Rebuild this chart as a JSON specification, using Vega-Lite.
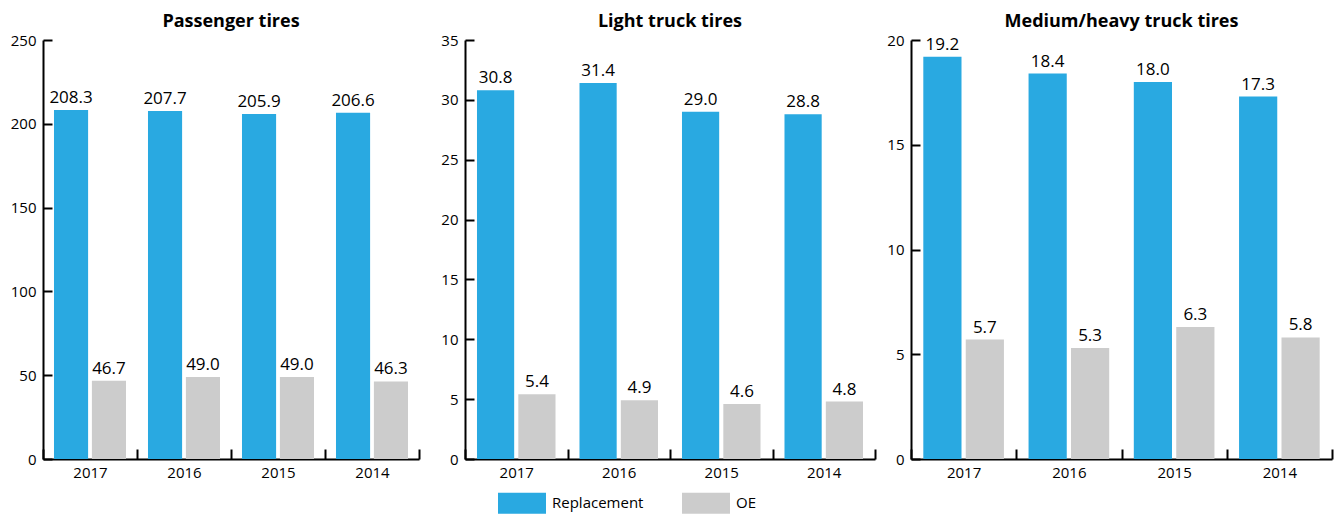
{
  "$schema": "https://vega.github.io/schema/vega-lite/v6.json",
  "padding": {"left": 10, "top": 13, "right": 9, "bottom": 4},
  "bounds": "flush",
  "spacing": 46,
  "config": {
    "font": "Open Sans",
    "view": {"stroke": null},
    "title": {"fontSize": 18, "fontWeight": "bold", "color": "black", "font": "Open Sans", "anchor": "middle", "offset": 2},
    "axis": {"domainColor": "black", "domainWidth": 2, "tickColor": "black", "tickWidth": 2, "labelFont": "Open Sans", "labelFontSize": 15, "labelColor": "black", "grid": false, "title": null},
    "axisX": {"tickSize": -10, "tickBand": "extent", "labelAngle": 0, "labelPadding": 16},
    "axisY": {"tickSize": -9, "labelPadding": 16},
    "text": {"font": "Open Sans", "fontSize": 17, "color": "black"}
  },
  "data": {"values": [
    {"panel": "Passenger tires", "year": "2017", "type": "Replacement", "value": 208.3},
    {"panel": "Passenger tires", "year": "2017", "type": "OE", "value": 46.7},
    {"panel": "Passenger tires", "year": "2016", "type": "Replacement", "value": 207.7},
    {"panel": "Passenger tires", "year": "2016", "type": "OE", "value": 49.0},
    {"panel": "Passenger tires", "year": "2015", "type": "Replacement", "value": 205.9},
    {"panel": "Passenger tires", "year": "2015", "type": "OE", "value": 49.0},
    {"panel": "Passenger tires", "year": "2014", "type": "Replacement", "value": 206.6},
    {"panel": "Passenger tires", "year": "2014", "type": "OE", "value": 46.3},
    {"panel": "Light truck tires", "year": "2017", "type": "Replacement", "value": 30.8},
    {"panel": "Light truck tires", "year": "2017", "type": "OE", "value": 5.4},
    {"panel": "Light truck tires", "year": "2016", "type": "Replacement", "value": 31.4},
    {"panel": "Light truck tires", "year": "2016", "type": "OE", "value": 4.9},
    {"panel": "Light truck tires", "year": "2015", "type": "Replacement", "value": 29.0},
    {"panel": "Light truck tires", "year": "2015", "type": "OE", "value": 4.6},
    {"panel": "Light truck tires", "year": "2014", "type": "Replacement", "value": 28.8},
    {"panel": "Light truck tires", "year": "2014", "type": "OE", "value": 4.8},
    {"panel": "Medium/heavy truck tires", "year": "2017", "type": "Replacement", "value": 19.2},
    {"panel": "Medium/heavy truck tires", "year": "2017", "type": "OE", "value": 5.7},
    {"panel": "Medium/heavy truck tires", "year": "2016", "type": "Replacement", "value": 18.4},
    {"panel": "Medium/heavy truck tires", "year": "2016", "type": "OE", "value": 5.3},
    {"panel": "Medium/heavy truck tires", "year": "2015", "type": "Replacement", "value": 18.0},
    {"panel": "Medium/heavy truck tires", "year": "2015", "type": "OE", "value": 6.3},
    {"panel": "Medium/heavy truck tires", "year": "2014", "type": "Replacement", "value": 17.3},
    {"panel": "Medium/heavy truck tires", "year": "2014", "type": "OE", "value": 5.8}
  ]},
  "hconcat": [
    {
      "width": 376, "height": 419,
      "title": "Passenger tires",
      "transform": [{"filter": "datum.panel === 'Passenger tires'"}],
      "encoding": {
        "x": {"field": "year", "type": "ordinal", "sort": ["2017", "2016", "2015", "2014"], "scale": {"paddingInner": 0, "paddingOuter": 0}},
        "xOffset": {"field": "type", "sort": ["Replacement", "OE"], "scale": {"paddingInner": 0.1, "paddingOuter": 0.29}},
        "y": {"field": "value", "type": "quantitative", "scale": {"domain": [0, 250]}, "axis": {"values": [0, 50, 100, 150, 200, 250]}}
      },
      "layer": [
        {"mark": "bar", "encoding": {"color": {"field": "type", "type": "nominal", "scale": {"domain": ["Replacement", "OE"], "range": ["#29A9E1", "#CCCCCC"]}, "legend": {"title": null, "orient": "none", "legendX": 467, "legendY": 451, "padding": 0, "direction": "horizontal", "symbolType": "M-2,-0.875H2V0.875H-2Z", "symbolSize": 576, "symbolStrokeWidth": 0, "symbolOpacity": 1, "labelFontSize": 15, "labelFont": "Open Sans", "labelColor": "black", "labelOffset": 18, "columnPadding": 38}}}},
        {"mark": {"type": "text", "baseline": "alphabetic", "dy": -7}, "encoding": {"text": {"field": "value", "type": "quantitative", "format": ".1f"}}}
      ]
    },
    {
      "bounds": "flush",
      "spacing": 36,
      "hconcat": [
        {
          "width": 410, "height": 419,
          "title": "Light truck tires",
          "transform": [{"filter": "datum.panel === 'Light truck tires'"}],
          "encoding": {
            "x": {"field": "year", "type": "ordinal", "sort": ["2017", "2016", "2015", "2014"], "scale": {"paddingInner": 0, "paddingOuter": 0}},
            "xOffset": {"field": "type", "sort": ["Replacement", "OE"], "scale": {"paddingInner": 0.1, "paddingOuter": 0.29}},
            "y": {"field": "value", "type": "quantitative", "scale": {"domain": [0, 35]}, "axis": {"values": [0, 5, 10, 15, 20, 25, 30, 35]}}
          },
          "layer": [
            {"mark": "bar", "encoding": {"color": {"field": "type", "type": "nominal"}}},
            {"mark": {"type": "text", "baseline": "alphabetic", "dy": -7}, "encoding": {"text": {"field": "value", "type": "quantitative", "format": ".1f"}}}
          ]
        },
        {
          "width": 421, "height": 419,
          "title": "Medium/heavy truck tires",
          "transform": [{"filter": "datum.panel === 'Medium/heavy truck tires'"}],
          "encoding": {
            "x": {"field": "year", "type": "ordinal", "sort": ["2017", "2016", "2015", "2014"], "scale": {"paddingInner": 0, "paddingOuter": 0}},
            "xOffset": {"field": "type", "sort": ["Replacement", "OE"], "scale": {"paddingInner": 0.1, "paddingOuter": 0.29}},
            "y": {"field": "value", "type": "quantitative", "scale": {"domain": [0, 20]}, "axis": {"values": [0, 5, 10, 15, 20]}}
          },
          "layer": [
            {"mark": "bar", "encoding": {"color": {"field": "type", "type": "nominal"}}},
            {"mark": {"type": "text", "baseline": "alphabetic", "dy": -7}, "encoding": {"text": {"field": "value", "type": "quantitative", "format": ".1f"}}}
          ]
        }
      ],
      "resolve": {"scale": {"y": "independent", "x": "independent", "xOffset": "independent"}}
    }
  ],
  "resolve": {"scale": {"y": "independent", "x": "independent", "xOffset": "independent"}}
}
